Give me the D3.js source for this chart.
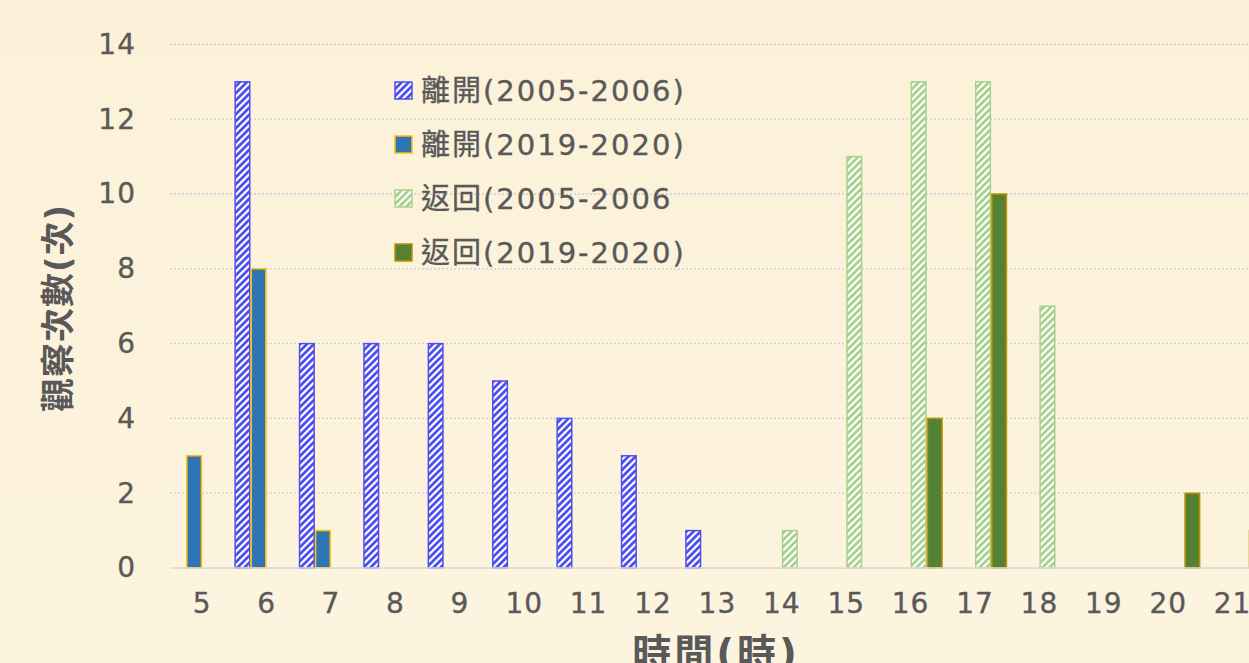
<!DOCTYPE html>
<html>
<head>
<meta charset="utf-8">
<script src="https://cdn.jsdelivr.net/npm/d3@7"></script>
<style>
  html, body { margin: 0; padding: 0; }
  body { width: 1249px; height: 663px; overflow: hidden; background: #fdf3dc; }
  text { font-family: "DejaVu Sans", "Noto Sans CJK TC", sans-serif; fill: #595959; }
  .lbl { stroke: #595959; stroke-width: 0.35px; }
</style>
</head>
<body>
<div id="chart"></div>
<script>
// hours on the x axis
const hours = [5, 6, 7, 8, 9, 10, 11, 12, 13, 14, 15, 16, 17, 18, 19, 20, 21];
const yTicks = [0, 2, 4, 6, 8, 10, 12, 14];

const seriesNames = ['離開(2005-2006)', '離開(2019-2020)', '返回(2005-2006', '返回(2019-2020)'];
const leave2005 = [0, 13, 6, 6, 6, 5, 4, 3, 1, 0, 0, 0, 0, 0, 0, 0, 0];
const leave2019 = [3, 8, 1, 0, 0, 0, 0, 0, 0, 0, 0, 0, 0, 0, 0, 0, 0];
const back2005  = [0, 0, 0, 0, 0, 0, 0, 0, 0, 1, 11, 13, 13, 7, 0, 0, 0];
const back2019  = [0, 0, 0, 0, 0, 0, 0, 0, 0, 0, 0, 4, 10, 0, 0, 2, 1];

const W = 1249, H = 663;
const margin = { left: 170, top: 44.4 };
const step = 64.4;

const svg = d3.select('#chart').append('svg')
  .attr('width', W)
  .attr('height', H);

const defs = svg.append('defs');

const bg = defs.append('linearGradient').attr('id', 'bg')
  .attr('x1', 0).attr('y1', 0).attr('x2', 0).attr('y2', 1);
bg.append('stop').attr('offset', '0%').attr('stop-color', '#fcf1d8');
bg.append('stop').attr('offset', '100%').attr('stop-color', '#fdf4df');

function hatch(id, color) {
  const p = defs.append('pattern')
    .attr('id', id)
    .attr('patternUnits', 'userSpaceOnUse')
    .attr('width', 7).attr('height', 7);
  p.append('rect').attr('width', 7).attr('height', 7).attr('fill', '#ffffff');
  p.append('path')
    .attr('d', 'M-1,1 l2,-2 M0,7 l7,-7 M6,8 l2,-2')
    .attr('stroke', color)
    .attr('stroke-width', 2.8);
}
hatch('hBlue', '#4f4ff0');
hatch('hGreen', '#a9d18e');

svg.append('rect').attr('width', W).attr('height', H).attr('fill', 'url(#bg)');

const x = d3.scaleBand()
  .domain(hours)
  .range([margin.left, margin.left + step * hours.length])
  .paddingInner(0)
  .paddingOuter(0);

const xs = d3.scaleBand()
  .domain(d3.range(seriesNames.length))
  .range([0, x.bandwidth()])
  .padding(0);

const y = d3.scaleLinear()
  .domain([0, 14])
  .range([568, margin.top]);

// grid
svg.append('g')
  .selectAll('line')
  .data(yTicks.filter(d => d > 0))
  .join('line')
  .attr('x1', margin.left)
  .attr('x2', W)
  .attr('y1', d => y(d))
  .attr('y2', d => y(d))
  .attr('stroke', '#c3cfdf')
  .attr('stroke-width', 1.3)
  .attr('stroke-dasharray', '2,2');

// y axis labels
const yAxis = d3.axisLeft(y).tickValues(yTicks).tickSize(0).tickPadding(0);
const gy = svg.append('g')
  .attr('transform', 'translate(136,0)')
  .call(yAxis);
gy.select('.domain').remove();
gy.selectAll('text')
  .attr('class', 'lbl')
  .attr('font-size', 28)
  .attr('letter-spacing', 1)
  .style('fill', '#595959')
  .style('font-family', '"DejaVu Sans", "Noto Sans CJK TC", sans-serif');

// bars
const seriesData = [leave2005, leave2019, back2005, back2019];
const fills = ['url(#hBlue)', '#2e75b6', 'url(#hGreen)', '#548235'];
const strokes = ['#4f4ff0', '#ffc000', '#a9d18e', '#bf9000'];

const bars = [];
seriesData.forEach((vals, si) => {
  vals.forEach((v, i) => {
    if (v > 0) bars.push({ s: si, hour: hours[i], value: v });
  });
});

svg.append('g')
  .selectAll('rect')
  .data(bars)
  .join('rect')
  .attr('x', d => x(d.hour) + xs(d.s) + 0.75)
  .attr('y', d => y(d.value))
  .attr('width', xs.bandwidth() - 1.5)
  .attr('height', d => y(0) - y(d.value))
  .attr('fill', d => fills[d.s])
  .attr('stroke', d => strokes[d.s])
  .attr('stroke-width', 1.5);

// baseline
svg.append('line')
  .attr('x1', margin.left).attr('x2', W)
  .attr('y1', y(0)).attr('y2', y(0))
  .attr('stroke', '#d9d9d9')
  .attr('stroke-width', 1.5);

// x axis labels
const xAxis = d3.axisBottom(x).tickSize(0).tickPadding(0);
const gx = svg.append('g')
  .attr('transform', 'translate(0,' + (y(0) + 24) + ')')
  .call(xAxis);
gx.select('.domain').remove();
gx.selectAll('text')
  .attr('class', 'lbl')
  .attr('font-size', 28)
  .attr('letter-spacing', 1)
  .attr('dy', '0.75em')
  .style('fill', '#595959')
  .style('font-family', '"DejaVu Sans", "Noto Sans CJK TC", sans-serif');

// axis titles
svg.append('text')
  .attr('transform', 'translate(70,308) rotate(-90)')
  .attr('text-anchor', 'middle')
  .attr('font-size', 34)
  .attr('font-weight', 'bold')
  .attr('letter-spacing', 1)
  .text('觀察次數(次)');

svg.append('text')
  .attr('x', 716)
  .attr('y', 667)
  .attr('text-anchor', 'middle')
  .attr('font-size', 39)
  .attr('font-weight', 'bold')
  .attr('letter-spacing', 3)
  .text('時間(時)');

// legend
const legend = svg.append('g').attr('transform', 'translate(395,82)');
const item = legend.selectAll('g')
  .data(seriesNames)
  .join('g')
  .attr('transform', (d, i) => 'translate(0,' + i * 54 + ')');

item.append('rect')
  .attr('width', 17).attr('height', 17)
  .attr('fill', (d, i) => fills[i])
  .attr('stroke', (d, i) => strokes[i])
  .attr('stroke-width', 1.5);

item.append('text')
  .attr('class', 'lbl')
  .attr('x', 26)
  .attr('y', 9)
  .attr('dy', '0.36em')
  .attr('font-size', 29)
  .attr('letter-spacing', 2)
  .text(d => d);
</script>
</body>
</html>
